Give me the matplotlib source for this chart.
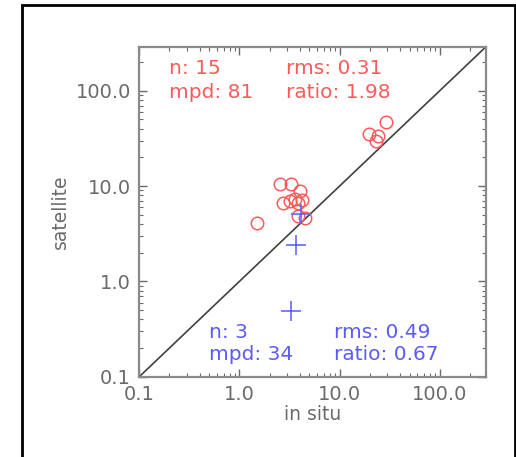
import matplotlib
matplotlib.use("Agg")
import matplotlib.pyplot as plt
from matplotlib.patches import Rectangle

# Data
red_x = [1.51, 2.53, 3.30, 4.0, 2.73, 3.18, 3.57, 3.85, 4.2, 3.85, 4.49,
         19.6, 24.2, 23.3, 28.8]
red_y = [4.11, 10.4, 10.4, 8.85, 6.68, 6.95, 7.24, 6.68, 7.2, 4.83, 4.64,
         35.0, 33.6, 29.8, 46.5]
blue_x = [4.16, 3.71, 3.25]
blue_y = [5.04, 2.43, 0.49]

ticks = [0.1, 1.0, 10.0, 100.0]
tick_labels = ["0.1", "1.0", "10.0", "100.0"]
lims = [0.1, 290.0]

red_stats = ["n: 15", "mpd: 81", "rms: 0.31", "ratio: 1.98"]
blue_stats = ["n: 3", "mpd: 34", "rms: 0.49", "ratio: 0.67"]

red_c = "#ff5a5a"
blue_c = "#5a5aff"
gray = "#6a6a6a"

fig = plt.figure(figsize=(5.16, 4.57), dpi=100)
fig.patches.append(Rectangle((22/516, -0.2), (515-22)/516, 1.2 - 5/457,
                             transform=fig.transFigure, fill=False,
                             edgecolor="black", linewidth=2.0))
ax = fig.add_axes([139.3/516, 1-376.7/457, (486-139.3)/516, (376.7-46.7)/457])
ax.set_xscale("log")
ax.set_yscale("log")
ax.set_xlim(lims)
ax.set_ylim(lims)

ax.plot(lims, lims, color="#404040", lw=1.2, zorder=1)
ax.plot(red_x, red_y, linestyle="none", marker="o", markersize=9,
        markerfacecolor="none", markeredgecolor=red_c, markeredgewidth=1.1, zorder=2)
ax.plot(blue_x, blue_y, linestyle="none", marker="+", markersize=15,
        markeredgecolor=blue_c, markeredgewidth=1.1, zorder=3)

ax.set_xticks(ticks)
ax.set_xticklabels(tick_labels)
ax.set_yticks(ticks)
ax.set_yticklabels(tick_labels)
ax.tick_params(which="both", direction="in", top=True, right=True, color=gray,
               labelcolor=gray, labelsize=14)
ax.tick_params(which="major", length=6, width=1.0, pad=6)
ax.tick_params(which="minor", length=3, width=0.8)
for s in ax.spines.values():
    s.set_color("#8a8a8a")
    s.set_linewidth(1.6)

ax.set_xlabel("in situ", color=gray, fontsize=13.5, labelpad=1)
ax.set_ylabel("satellite", color=gray, fontsize=13.5, labelpad=4)

def ftxt(x, y, s, c):
    fig.text(x/516, 1 - y/457, s, color=c, fontsize=14.5, ha="left", va="center")

ftxt(169, 68, red_stats[0], red_c)
ftxt(169, 93, red_stats[1], red_c)
ftxt(286, 68, red_stats[2], red_c)
ftxt(286, 93, red_stats[3], red_c)
ftxt(209, 332, blue_stats[0], blue_c)
ftxt(209, 354, blue_stats[1], blue_c)
ftxt(334, 332, blue_stats[2], blue_c)
ftxt(334, 354, blue_stats[3], blue_c)

fig.savefig("out.png", dpi=100)
